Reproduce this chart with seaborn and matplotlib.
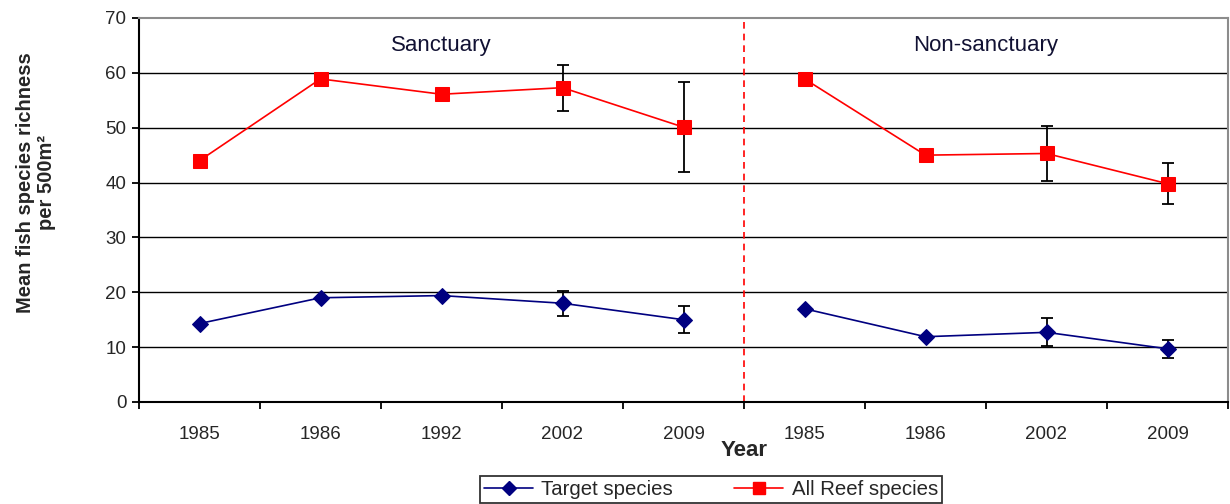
import numpy as np
import pandas as pd
import matplotlib
matplotlib.use("Agg")
import matplotlib.pyplot as plt
from matplotlib.lines import Line2D
import seaborn as sns

# Survey years, grouped by site type
years = ["1985", "1986", "1992", "2002", "2009", "1985", "1986", "2002", "2009"]
sites = ["Sanctuary"] * 5 + ["Non-sanctuary"] * 4

# Mean species richness per 500 m² and standard errors (NaN = no error bar)
target_mean = [14.3, 19.0, 19.4, 18.0, 15.0, 17.0, 11.9, 12.7, 9.7]
target_err = [np.nan, np.nan, np.nan, 2.3, 2.5, np.nan, np.nan, 2.55, 1.65]
reef_mean = [44.0, 58.9, 56.1, 57.3, 50.1, 58.9, 45.0, 45.3, 39.8]
reef_err = [np.nan, np.nan, np.nan, 4.2, 8.2, np.nan, np.nan, 5.0, 3.7]

series_names = ["Target species", "All Reef species"]
series_colors = {"Target species": "#000080", "All Reef species": "#FF0000"}
series_markers = {"Target species": "D", "All Reef species": "s"}
series_msize = {"Target species": 8.5, "All Reef species": 10}

pos = np.arange(len(years))
df = pd.concat([
    pd.DataFrame({"pos": pos, "value": target_mean, "err": target_err,
                  "series": "Target species", "site": sites}),
    pd.DataFrame({"pos": pos, "value": reef_mean, "err": reef_err,
                  "series": "All Reef species", "site": sites}),
], ignore_index=True)

sns.set_theme(style="white")
plt.rcParams["font.family"] = ["Liberation Sans", "DejaVu Sans"]

fig = plt.figure(figsize=(12.3, 5.04), dpi=100)
ax = fig.add_axes([139 / 1230, 1 - 402 / 504, (1228 - 139) / 1230, (402 - 18) / 504])

# horizontal gridlines
for yv in range(10, 70, 10):
    ax.axhline(yv, color="black", lw=1.0, zorder=1)

# error bars behind markers
for name in series_names:
    sub = df[(df.series == name) & df.err.notna()]
    ax.errorbar(sub.pos, sub.value, yerr=sub.err, fmt="none", ecolor="black",
                elinewidth=1.3, capsize=4.5, capthick=1.3, zorder=2)

# one line per site segment for each series
for name in series_names:
    for site in ["Sanctuary", "Non-sanctuary"]:
        sub = df[(df.series == name) & (df.site == site)]
        sns.lineplot(data=sub, x="pos", y="value", ax=ax, color=series_colors[name],
                     marker=series_markers[name], markersize=series_msize[name],
                     markeredgecolor=series_colors[name], linewidth=1.2,
                     estimator=None, legend=False, zorder=3)

# divider between site types
ax.axvline(4.5, color="#FF0000", lw=1.2, ls=(0, (4, 3)), zorder=2)

ax.text(2.0, 65, "Sanctuary", ha="center", va="center", fontsize=16, color="#111133")
ax.text(6.5, 65, "Non-sanctuary", ha="center", va="center", fontsize=16, color="#111133")

ax.set_xlim(-0.5, 8.5)
ax.set_ylim(0, 70)
ax.set_yticks(range(0, 80, 10))
ax.set_xticks(pos)
ax.set_xticklabels(years)
ax.set_xticks(np.arange(-0.5, 9, 1.0), minor=True)
ax.tick_params(axis="x", which="major", length=0, pad=17, labelsize=13.5)
ax.tick_params(axis="x", which="minor", length=5, width=1.3, color="black", direction="out", bottom=True)
ax.tick_params(axis="y", length=5, width=1.3, color="black", direction="out", left=True,
               labelsize=13.5, pad=4)
ax.set_xlabel("")
ax.set_ylabel("")

for side in ["left", "bottom"]:
    ax.spines[side].set_color("black")
    ax.spines[side].set_linewidth(1.5)
for side in ["top", "right"]:
    ax.spines[side].set_color("#8c8c8c")
    ax.spines[side].set_linewidth(1.5)

fig.text(744 / 1230, 1 - 451 / 504, "Year", ha="center", va="center",
         fontsize=16, fontweight="bold")
fig.text(26 / 1230, 1 - 183 / 504, "Mean fish species richness", rotation=90,
         ha="center", va="center", fontsize=14.5, fontweight="bold")
fig.text(47 / 1230, 1 - 183 / 504, "per 500m²", rotation=90,
         ha="center", va="center", fontsize=14.5, fontweight="bold")

handles = [Line2D([], [], color=series_colors[n], marker=series_markers[n],
                  markersize=series_msize[n] * 0.8, lw=1.2,
                  markeredgecolor=series_colors[n]) for n in series_names]
leg = fig.legend(handles, series_names, loc="upper center",
                 bbox_to_anchor=(711 / 1230, 1 - 476 / 504), ncol=2,
                 fontsize=14.7, frameon=True, fancybox=False, edgecolor="black",
                 handlelength=2.4, handletextpad=0.4, columnspacing=3.0,
                 borderpad=0.2, borderaxespad=0.0)
leg.get_frame().set_linewidth(1.3)

fig.savefig("out.png", dpi=100)
